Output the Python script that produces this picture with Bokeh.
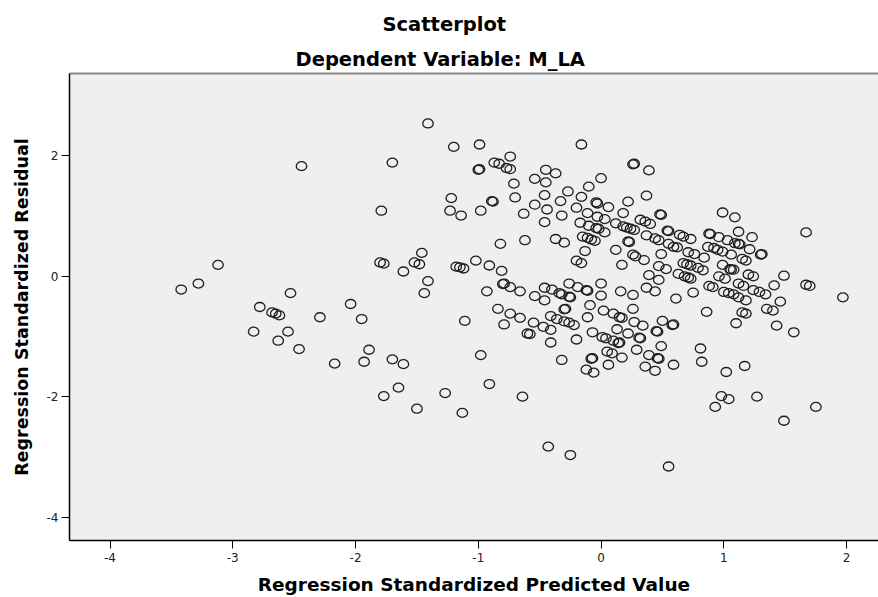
from bokeh.plotting import figure
from bokeh.models import FixedTicker, LinearAxis, Title, Range1d
from bokeh.embed import file_html
from bokeh.resources import INLINE

# ---- data: (standardized predicted value, standardized residual) ----
pred = [-1.41, -1.20, -0.99, -1.70, -1.00, -0.99, -2.44, -1.22, -1.23, -1.14,
        -1.79, -0.98, -1.46, -1.80, -1.77, -1.52, -1.48, -1.61, -1.18, -1.15,
        -1.12, -1.02, -1.41, -1.44, -3.12, -3.28, -3.42, -2.53, -2.78, -2.68,
        -2.65, -2.62, -2.04, -2.29, -1.95, -1.11, -2.83, -2.55, -2.63, -2.46,
        -1.89, -1.93, -2.17, -1.70, -1.61, -0.98, -1.65, -1.77, -1.27, -1.50,
        -1.13,
        -0.16, -0.74, -0.87, -0.83, -0.77, -0.74, -0.45, -0.37, 0.26, 0.27,
        0.39, -0.54, -0.45, -0.71, 0.00, -0.10, -0.27, -0.70, -0.46, -0.16,
        0.37, -0.89, -0.88, -0.33, -0.54, -0.04, -0.03, 0.22, 0.06, -0.63,
        -0.44, -0.20, -0.32, -0.11, 0.18, 0.49, 0.48, -0.03, 0.03, -0.46,
        -0.17, -0.10, -0.04, -0.02, 0.12, 0.18, 0.21, 0.24, 0.27, 0.32,
        0.36, 0.40, 0.03, 0.99, 1.09, 0.54, 0.55, 0.64, 0.67, 0.73,
        0.37, 0.44, 0.47, 1.12, 1.23, 0.89, 0.88, 0.96, 1.03, 1.09,
        1.13, 1.12, 1.67, -0.15, -0.11, -0.08, -0.05, -0.82, -0.62, -0.37,
        -0.30, 0.22, 0.23, 0.55, 0.59, 0.62, 0.12, -0.13, 0.87, 0.92,
        0.95, 0.99, 1.06, 1.15, 1.18, 1.21, 1.31, 1.30, 0.71, 0.76,
        0.84, 0.49, 0.26, 0.28, 0.35, 0.17, 0.47, 0.53, 0.67, 0.70,
        0.73, 0.79, 0.83, 0.99, 1.05, 1.06, 1.08, 0.39, 0.47, 0.63,
        0.68, 0.71, 0.73, 0.96, 1.01, 1.20, 1.24, 1.49, 1.41, 1.67,
        1.70, 1.12, 1.16, 0.88, 0.91, 1.00, 1.04, 1.08, 1.12, 1.18,
        1.24, 1.29, 1.34, 1.97, -0.91, -0.81, -0.80, -0.79, -0.74, -0.66,
        -0.93, -0.26, -0.19, -0.11, -0.12, 0.00, -0.46, -0.40, -0.34, -0.32,
        -0.25, -0.26, 0.16, 0.26, 0.37, 0.44, 0.75, 0.61, -0.54, 0.00,
        -0.20, -0.16, -0.46, -0.09, -0.29, -0.30, -0.84, -0.74, -0.66, -0.55,
        -0.47, -0.41, -0.41, -0.36, -0.30, -0.26, -0.22, -0.79, -0.60, -0.58,
        -0.41, -0.20, -0.11, 0.02, 0.10, 0.15, 0.17, 0.26, 0.27, 0.34,
        -0.07, 0.01, 0.04, 0.10, 0.14, 0.15, 0.13, 0.22, 0.32, 0.31,
        0.46, 0.45, 0.50, 0.59, 0.58, 0.49, 0.29, 0.39, 0.46, 0.47,
        0.36, 0.44, 0.59, 0.05, 0.09, 0.17, 0.06, -0.07, -0.08, -0.12,
        -0.06, -0.32, 0.86, 1.10, 0.81, 0.82, 1.02, 1.17, 0.98, 1.04,
        0.93, 1.27, 1.75, 1.49, 1.57, 1.43, 1.35, 1.40, 1.46, 1.15,
        1.18, -0.43, -0.25, 0.55, -0.91, -0.64]

resid = [2.54, 2.15, 2.19, 1.89, 1.77, 1.78, 1.83, 1.30, 1.09, 1.01,
         1.09, 1.09, 0.39, 0.23, 0.21, 0.23, 0.20, 0.08, 0.16, 0.15,
         0.13, 0.26, -0.08, -0.28, 0.19, -0.12, -0.22, -0.28, -0.51, -0.60,
         -0.62, -0.65, -0.46, -0.68, -0.71, -0.74, -0.92, -0.92, -1.07, -1.21,
         -1.22, -1.42, -1.45, -1.38, -1.46, -1.31, -1.85, -1.99, -1.94, -2.20,
         -2.27,
         2.19, 1.99, 1.89, 1.87, 1.80, 1.78, 1.77, 1.71, 1.86, 1.87,
         1.76, 1.62, 1.56, 1.54, 1.63, 1.49, 1.41, 1.31, 1.35, 1.32,
         1.34, 1.25, 1.24, 1.25, 1.19, 1.23, 1.21, 1.24, 1.15, 1.04,
         1.11, 1.14, 1.01, 1.05, 1.05, 1.02, 1.03, 0.99, 0.95, 0.90,
         0.89, 0.84, 0.80, 0.79, 0.88, 0.83, 0.81, 0.79, 0.77, 0.94,
         0.91, 0.87, 0.73, 1.06, 0.98, 0.76, 0.75, 0.69, 0.66, 0.62,
         0.68, 0.63, 0.60, 0.74, 0.65, 0.70, 0.71, 0.65, 0.60, 0.55,
         0.53, 0.54, 0.73, 0.66, 0.64, 0.61, 0.59, 0.54, 0.60, 0.62,
         0.56, 0.58, 0.57, 0.54, 0.49, 0.48, 0.44, 0.42, 0.49, 0.47,
         0.44, 0.41, 0.36, 0.29, 0.26, 0.45, 0.37, 0.36, 0.40, 0.37,
         0.31, 0.37, 0.36, 0.33, 0.27, 0.19, 0.17, 0.12, 0.22, 0.20,
         0.18, 0.14, 0.10, 0.19, 0.12, 0.11, 0.11, 0.02, -0.06, 0.04,
         0.00, -0.02, -0.04, 0.00, -0.04, 0.03, 0.00, 0.01, -0.15, -0.14,
         -0.16, -0.12, -0.16, -0.16, -0.18, -0.26, -0.28, -0.30, -0.35, -0.40,
         -0.23, -0.26, -0.30, -0.35, 0.18, 0.09, -0.13, -0.12, -0.18, -0.25,
         -0.25, -0.12, -0.18, -0.24, -0.23, -0.12, -0.19, -0.22, -0.28, -0.30,
         -0.35, -0.34, -0.25, -0.31, -0.19, -0.25, -0.27, -0.37, -0.33, -0.32,
         0.26, 0.22, -0.40, -0.48, -0.54, -0.55, -0.54, -0.62, -0.69, -0.77,
         -0.84, -0.89, -0.66, -0.71, -0.75, -0.77, -0.81, -0.80, -0.95, -0.96,
         -1.10, -1.05, -0.68, -0.57, -0.62, -0.68, -0.69, -0.54, -0.76, -0.82,
         -0.93, -1.01, -1.03, -1.07, -1.11, -1.10, -0.88, -0.95, -1.03, -1.02,
         -0.92, -0.91, -0.74, -0.80, -0.81, -1.16, -1.22, -1.31, -1.36, -1.37,
         -1.50, -1.57, -1.47, -1.25, -1.28, -1.35, -1.47, -1.36, -1.37, -1.55,
         -1.60, -1.39, -0.59, -0.78, -1.20, -1.42, -1.59, -1.49, -1.99, -2.04,
         -2.17, -2.00, -2.17, -2.40, -0.93, -0.82, -0.54, -0.57, -0.42, -0.60,
         -0.62, -2.83, -2.97, -3.16, -1.79, -2.00]

x_ticks = [-4, -3, -2, -1, 0, 1, 2]
x_tick_labels = ["-4", "-3", "-2", "-1", "0", "1", "2"]
y_ticks = [-4, -2, 0, 2]
y_tick_labels = ["-4", "-2", "0", "2"]

title_main = "Scatterplot"
title_sub = "Dependent Variable: M_LA"
x_label = "Regression Standardized Predicted Value"
y_label = "Regression Standardized Residual"

FONT = "DejaVu Sans"

p = figure(width=878, height=597, output_backend="svg", toolbar_location=None,
           x_range=Range1d(-4.33, 2.26), y_range=Range1d(-4.39, 3.37),
           min_border_left=69, min_border_right=0,
           min_border_top=73, min_border_bottom=57)
p.background_fill_color = "#efefef"
p.border_fill_color = "white"
p.outline_line_color = None
p.grid.visible = False

p.ellipse(x=pred, y=resid, width=10.5, height=9,
          width_units="screen", height_units="screen",
          fill_color=None, line_color="#1e1e1e", line_width=1.3)

def style_axis(ax, ticks, labels):
    ax.ticker = FixedTicker(ticks=ticks)
    ax.major_label_overrides = {t: l for t, l in zip(ticks, labels)}
    ax.axis_line_color = "black"
    ax.axis_line_width = 1.5
    ax.major_tick_line_color = "black"
    ax.major_tick_line_width = 1
    ax.major_tick_out = 8
    ax.major_tick_in = 0
    ax.minor_tick_out = 0
    ax.minor_tick_in = 0
    ax.major_label_text_font = FONT
    ax.major_label_text_font_size = "12px"
    ax.major_label_text_color = "#222222"
    ax.axis_label_text_font = FONT
    ax.axis_label_text_font_style = "bold"
    ax.axis_label_text_color = "black"

xa = p.xaxis[0]
style_axis(xa, x_ticks, x_tick_labels)
xa.axis_label = x_label
xa.axis_label_text_font_size = "18.5px"
xa.major_label_standoff = 4
xa.axis_label_standoff = 9

ya = p.yaxis[0]
style_axis(ya, y_ticks, y_tick_labels)
ya.axis_label = y_label
ya.axis_label_text_font_size = "17.5px"
ya.major_label_standoff = 3
ya.major_label_orientation = "horizontal"
ya.axis_label_standoff = 12

top = LinearAxis(ticker=FixedTicker(ticks=[]), axis_line_color="#8a8a8a",
                 axis_line_width=2, major_tick_out=0, major_tick_in=0,
                 minor_tick_out=0, minor_tick_in=0, major_label_standoff=0,
                 major_label_text_font_size="0px")
p.add_layout(top, "above")

p.add_layout(Title(text=title_sub, align="left", offset=226, text_font=FONT,
                   text_font_size="19.5px", text_font_style="bold",
                   text_color="black", standoff=5), "above")
p.add_layout(Title(text=title_main, align="left", offset=313, text_font=FONT,
                   text_font_size="19.5px", text_font_style="bold",
                   text_color="black", standoff=16), "above")

open("out.html", "w").write(file_html(p, INLINE))
